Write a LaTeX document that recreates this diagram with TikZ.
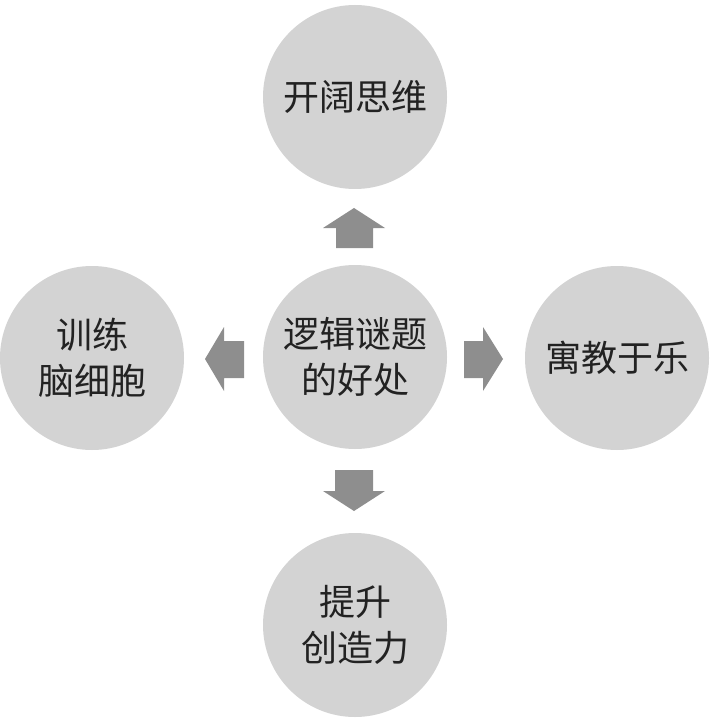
\documentclass[tikz,border=0pt]{standalone}
\usepackage{fontspec}
\newfontfamily\cjk{Noto Sans CJK SC}
\definecolor{circgray}{HTML}{D3D3D3}
\definecolor{arrgray}{HTML}{8E8E8E}
\definecolor{txt}{HTML}{222222}
\begin{document}
\begin{tikzpicture}[x=1pt,y=-1pt,
  bubble/.style={circle,fill=circgray,minimum size=184pt,inner sep=0pt,
    font=\cjk\fontsize{36}{46}\selectfont,text=txt,align=center},
  blockarrow/.style={fill=arrgray,draw=none}]
\useasboundingbox (0,0) rectangle (709,719);
\node[bubble] (c) at (355,357) {逻辑谜题\\的好处};
\node[bubble] (t) at (355,97) {开阔思维};
\node[bubble] (b) at (355,625) {提升\\创造力};
\node[bubble] (l) at (92,358) {训练\\脑细胞};
\node[bubble] (r) at (617,358) {寓教于乐};
% block arrows
\fill[blockarrow] (354,208) -- (385,228) -- (373,228) -- (373,248) -- (336,248) -- (336,228) -- (323,228) -- cycle;
\fill[blockarrow] (354,511) -- (385,491) -- (373,491) -- (373,470) -- (335,470) -- (335,491) -- (323,491) -- cycle;
\fill[blockarrow] (205,359) -- (224,327) -- (224,341) -- (244,341) -- (244,378) -- (224,378) -- (224,391) -- cycle;
\fill[blockarrow] (503,359) -- (483,327) -- (483,341) -- (464,341) -- (464,378) -- (483,378) -- (483,391) -- cycle;
\end{tikzpicture}
\end{document}
